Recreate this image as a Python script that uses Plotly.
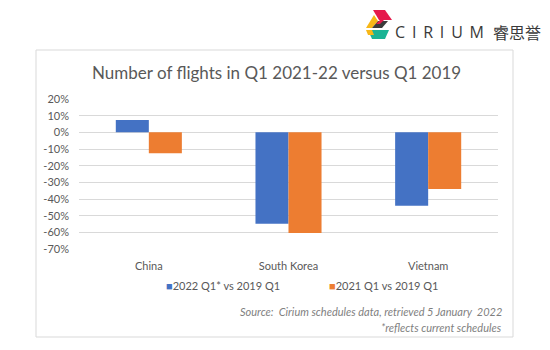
import plotly.graph_objects as go

categories = ["China", "South Korea", "Vietnam"]
series_2022 = [0.074, -0.548, -0.44]
series_2021 = [-0.126, -0.604, -0.34]
name_2022 = "2022 Q1* vs 2019 Q1"
name_2021 = "2021 Q1 vs 2019 Q1"
tick_vals = [0.2, 0.1, 0.0, -0.1, -0.2, -0.3, -0.4, -0.5, -0.6, -0.7]
tick_labels = ["20%", "10%", "0%", "-10%", "-20%", "-30%", "-40%", "-50%", "-60%", "-70%"]

BLUE = "#4472c4"
ORANGE = "#ed7d31"
GRAY = "#595959"
FONT = "Lato, Carlito, Calibri, sans-serif"

W, H = 550, 350
ML, MR, MT, MB = 79, 52, 99, 101
PW, PH = W - ML - MR, H - MT - MB


def px(x):
    return (x - ML) / PW


def py(y):
    return (H - MB - y) / PH


fig = go.Figure()
fig.add_trace(go.Bar(x=categories, y=series_2022, name=name_2022,
                     marker=dict(color=BLUE, line=dict(width=0)), showlegend=False))
fig.add_trace(go.Bar(x=categories, y=series_2021, name=name_2021,
                     marker=dict(color=ORANGE, line=dict(width=0)), showlegend=False))

shapes = []
# chart border
shapes.append(dict(type="rect", xref="paper", yref="paper",
                   x0=px(36), x1=px(513), y0=py(337), y1=py(50),
                   line=dict(color="#d9d9d9", width=1), layer="below"))


def poly(points, color):
    d = "M " + " L ".join(f"{px(a):.5f},{py(b):.5f}" for a, b in points) + " Z"
    return dict(type="path", xref="paper", yref="paper", path=d,
                fillcolor=color, line=dict(width=0))


# logo mark
shapes.append(poly([(373, 10), (385, 10), (392, 20), (379, 20)], "#e5194b"))
shapes.append(poly([(366, 28), (374, 15), (378, 21), (372, 28)], "#f7b718"))
shapes.append(poly([(372, 28), (378, 21), (388, 21), (382, 28)], "#3b3b3b"))
shapes.append(poly([(376, 24), (380, 20), (384, 20), (380, 24)], "#e5194b"))
shapes.append(poly([(368, 30), (389, 30), (385, 39), (372, 39)], "#19b394"))
shapes.append(poly([(366, 30), (372, 30), (374, 35), (368, 35)], "#f7b718"))

annotations = []
annotations.append(dict(xref="paper", yref="paper", x=px(276), y=py(72),
                        text="Number of flights in Q1 2021-22 versus Q1 2019",
                        showarrow=False, xanchor="center", yanchor="middle",
                        font=dict(family=FONT, size=17, color=GRAY)))
# legend (manual)
annotations.append(dict(xref="paper", yref="paper", x=px(164), y=py(285),
                        text=f"<span style='color:{BLUE}'>■</span>{name_2022}",
                        showarrow=False, xanchor="left", yanchor="middle",
                        font=dict(family=FONT, size=11, color=GRAY)))
annotations.append(dict(xref="paper", yref="paper", x=px(327), y=py(285),
                        text=f"<span style='color:{ORANGE}'>■</span>{name_2021}",
                        showarrow=False, xanchor="left", yanchor="middle",
                        font=dict(family=FONT, size=11, color=GRAY)))
# source
annotations.append(dict(xref="paper", yref="paper", x=px(504), y=py(311),
                        text="<i>Source:  Cirium schedules data, retrieved 5 January  2022</i>",
                        showarrow=False, xanchor="right", yanchor="middle",
                        font=dict(family=FONT, size=11, color="#7f7f7f")))
annotations.append(dict(xref="paper", yref="paper", x=px(504), y=py(327),
                        text="<i>*reflects current schedules</i>",
                        showarrow=False, xanchor="right", yanchor="middle",
                        font=dict(family=FONT, size=11, color="#7f7f7f")))
# logo text
annotations.append(dict(xref="paper", yref="paper", x=px(393), y=py(32),
                        text="C\u2009 I\u2009 R\u2009 I\u2009 U\u2009 M",
                        showarrow=False, xanchor="left", yanchor="middle",
                        font=dict(family="Open Sans, sans-serif", size=16, color="#3a3a3a")))
annotations.append(dict(xref="paper", yref="paper", x=px(491), y=py(32),
                        text="睿思誉",
                        showarrow=False, xanchor="left", yanchor="middle",
                        font=dict(family="Noto Sans CJK SC, sans-serif", size=16, color="#3a3a3a")))

fig.update_layout(
    width=W, height=H,
    margin=dict(l=ML, r=MR, t=MT, b=MB, pad=0),
    paper_bgcolor="white", plot_bgcolor="white",
    barmode="group", bargap=0.527, bargroupgap=0,
    showlegend=False,
    shapes=shapes, annotations=annotations,
    font=dict(family=FONT, size=11, color=GRAY),
)
fig.update_xaxes(showgrid=False, showline=False, zeroline=False, ticks="",
                 tickfont=dict(family=FONT, size=11, color=GRAY),
                 ticklabelstandoff=9, fixedrange=True)
fig.update_yaxes(range=[-0.7, 0.2], tickvals=tick_vals, ticktext=tick_labels,
                 showgrid=True, gridcolor="#d9d9d9", gridwidth=1,
                 zeroline=True, zerolinecolor="#d9d9d9", zerolinewidth=1,
                 showline=False, ticks="", ticklabelstandoff=9,
                 tickfont=dict(family=FONT, size=11, color=GRAY), fixedrange=True)

fig.write_html("out.html")
